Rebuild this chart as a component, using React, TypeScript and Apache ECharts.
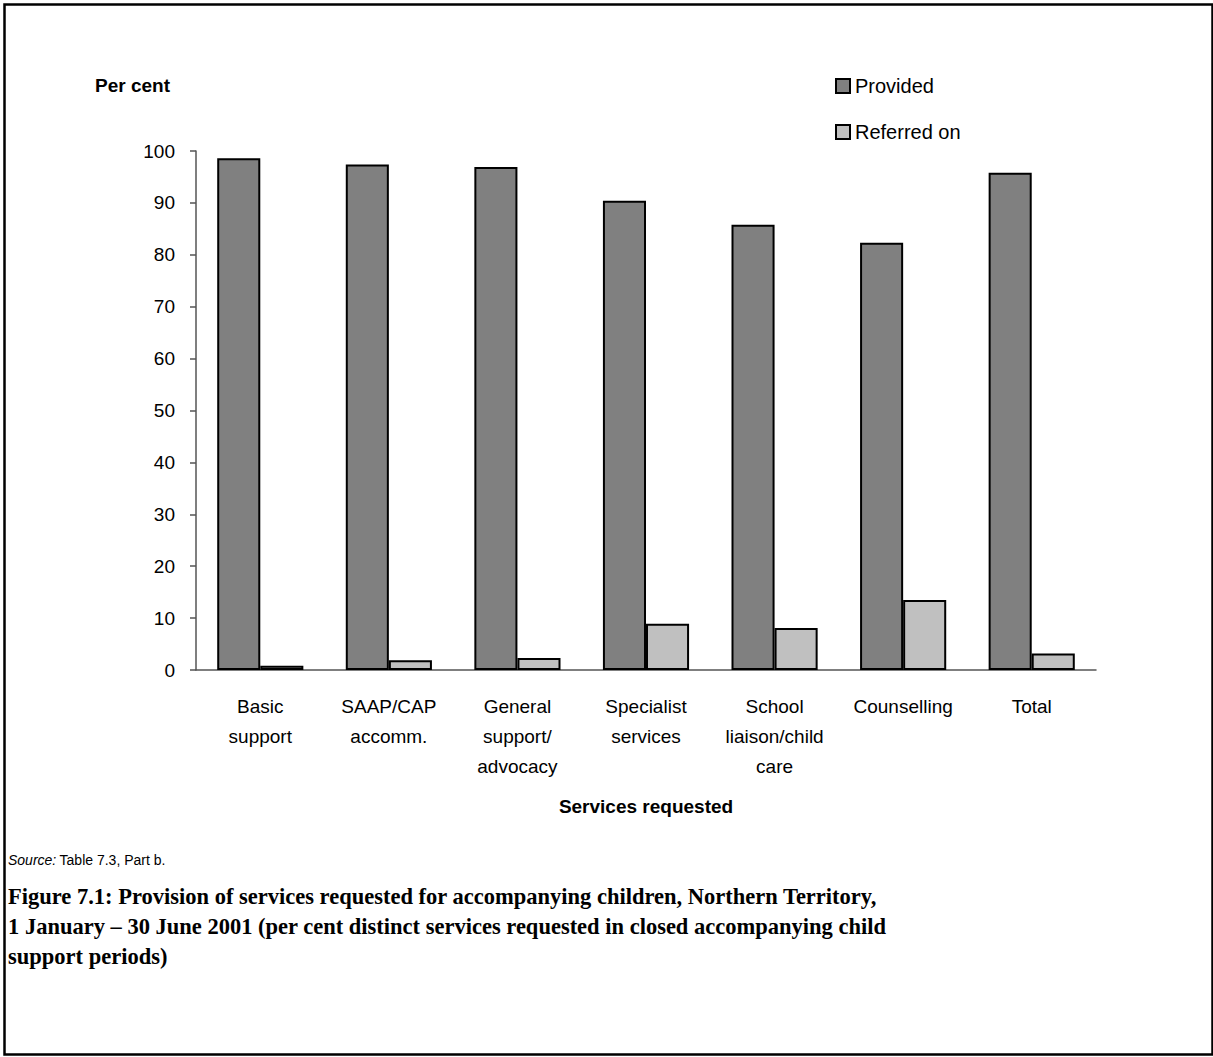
import React, { useEffect, useRef } from "react";
import * as echarts from "echarts";

const categories = [
  "Basic\nsupport",
  "SAAP/CAP\naccomm.",
  "General\nsupport/\nadvocacy",
  "Specialist\nservices",
  "School\nliaison/child\ncare",
  "Counselling",
  "Total",
];
const provided = [98.6, 97.4, 96.9, 90.4, 85.8, 82.3, 95.8];
const referredOn = [0.8, 1.9, 2.3, 8.9, 8.1, 13.5, 3.2];
const yTicks = { min: 0, max: 100, interval: 10 };

const SANS = "'Liberation Sans', Arial, sans-serif";
const SERIF = "'Liberation Serif', 'DejaVu Serif', serif";

export default function App() {
  const ref = useRef<HTMLDivElement>(null);

  useEffect(() => {
    document.body.style.margin = "0";
    const chart = echarts.init(ref.current!, null, { renderer: "svg" });
    chart.setOption({
      animation: false,
      backgroundColor: "#ffffff",
      grid: { left: 196, right: 117, top: 151, bottom: 387, containLabel: false },
      legend: {
        orient: "vertical",
        left: 830,
        top: 71,
        itemWidth: 14,
        itemHeight: 14,
        itemGap: 26,
        icon: "rect",
        textStyle: { fontFamily: SANS, fontSize: 20, color: "#000" },
        data: ["Provided", "Referred on"],
      },
      xAxis: {
        type: "category",
        data: categories,
        axisLine: { lineStyle: { color: "#555", width: 1.5 } },
        axisTick: { show: false },
        axisLabel: {
          fontFamily: SANS,
          fontSize: 19,
          color: "#000",
          lineHeight: 30,
          margin: 21,
          interval: 0,
        },
      },
      yAxis: {
        type: "value",
        min: yTicks.min,
        max: yTicks.max,
        interval: yTicks.interval,
        splitLine: { show: false },
        axisLine: { show: true, lineStyle: { color: "#555", width: 1.5 } },
        axisTick: { show: true, inside: false, length: 6, lineStyle: { color: "#555", width: 1.5 } },
        axisLabel: { fontFamily: SANS, fontSize: 19, color: "#000", margin: 21 },
      },
      series: [
        {
          name: "Provided",
          type: "bar",
          data: provided,
          barGap: "0%",
          barCategoryGap: "33%",
          itemStyle: { color: "#808080", borderColor: "#000", borderWidth: 2 },
        },
        {
          name: "Referred on",
          type: "bar",
          data: referredOn,
          barGap: "0%",
          barCategoryGap: "33%",
          itemStyle: { color: "#c0c0c0", borderColor: "#000", borderWidth: 2 },
        },
      ],
      graphic: [
        {
          type: "rect",
          left: 2,
          top: 2,
          shape: { width: 1208, height: 1050 },
          style: { fill: "none", stroke: "#000", lineWidth: 2.5 },
        },
        {
          type: "text",
          left: 95,
          top: 76,
          style: { text: "Per cent", font: `bold 19px ${SANS}`, fill: "#000" },
        },
        {
          type: "text",
          x: 646,
          y: 806,
          style: {
            text: "Services requested",
            font: `bold 19px ${SANS}`,
            fill: "#000",
            textAlign: "center",
            textVerticalAlign: "middle",
          },
        },
        {
          type: "text",
          left: 8,
          top: 853,
          style: {
            rich: {
              i: { fontStyle: "italic", fontSize: 14, fontFamily: SANS, fill: "#000" },
              n: { fontSize: 14, fontFamily: SANS, fill: "#000" },
            },
            text: "{i|Source:} {n|Table 7.3, Part b.}",
          },
        },
        {
          type: "text",
          left: 8,
          top: 881,
          style: {
            text:
              "Figure 7.1: Provision of services requested for accompanying children, Northern Territory,\n1 January – 30 June 2001 (per cent distinct services requested in closed accompanying child\nsupport periods)",
            font: `bold 22.5px ${SERIF}`,
            lineHeight: 30,
            fill: "#000",
          },
        },
      ],
    });
    return () => chart.dispose();
  }, []);

  return (
    <div
      ref={ref}
      style={{ position: "absolute", left: 0, top: 0, width: 1213, height: 1057 }}
    />
  );
}
